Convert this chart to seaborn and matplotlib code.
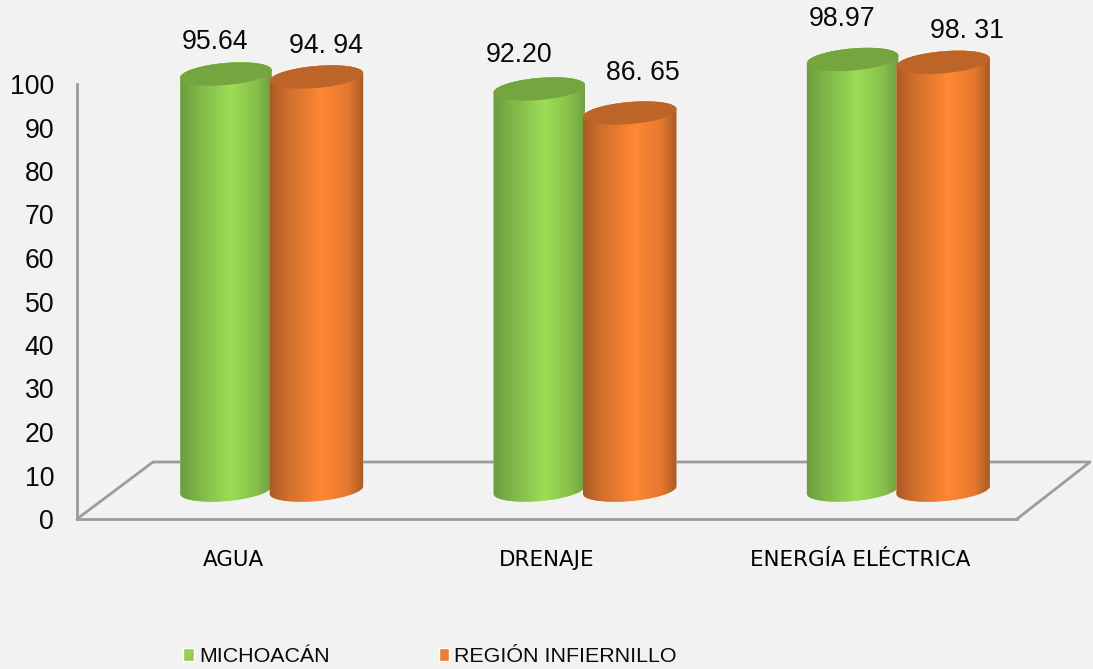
import numpy as np
import pandas as pd
import matplotlib
matplotlib.use('Agg')
import matplotlib.pyplot as plt
import seaborn as sns
from matplotlib.colors import LinearSegmentedColormap
from matplotlib.lines import Line2D
from matplotlib.patches import Ellipse
from matplotlib.path import Path
from matplotlib.transforms import Affine2D, IdentityTransform

categories = ['AGUA', 'DRENAJE', 'ENERGÍA ELÉCTRICA']
series_names = ['MICHOACÁN', 'REGIÓN INFIERNILLO']
michoacan = [95.64, 92.20, 98.97]
infiernillo = [94.94, 86.65, 98.31]
value_labels = [['95.64', '92.20', '98.97'], ['94. 94', '86. 65', '98. 31']]
y_ticks = [0, 10, 20, 30, 40, 50, 60, 70, 80, 90, 100]

# label offsets from the top of each cylinder, in pixels
label_dx = [[-11, -20, -11], [10, 13, 24]]
label_dy = [[32, 34, 40], [31, 40, 31]]

W, H = 1093, 669
BG = '#f2f2f2'
GREY = '#9c9c9c'
colors = ['#92D050', '#ED7D31']
top_colors = ['#74a53e', '#bd6529']
body_cmaps = [
    LinearSegmentedColormap.from_list('g', [(0, '#6b9b3e'), (.22, '#80b748'), (.55, '#9cdd55'), (.82, '#86bf4b'), (1, '#6c9a3f')]),
    LinearSegmentedColormap.from_list('o', [(0, '#a55822'), (.2, '#cf6f2c'), (.55, '#ff8833'), (.82, '#e5782f'), (1, '#a25722')]),
]

data = pd.DataFrame({
    'categoria': categories * 2,
    'serie': [series_names[0]] * 3 + [series_names[1]] * 3,
    'valor': michoacan + infiernillo,
})

sns.set_style('white')
plt.rcParams['font.family'] = ['Liberation Sans', 'DejaVu Sans']

fig = plt.figure(figsize=(W / 100, H / 100), dpi=100, facecolor=BG)
# front plane of the 3D box: x 77..1017, y 84..519 (pixels from top)
ax = fig.add_axes([77 / W, 1 - 519 / H, 940 / W, 435 / H])
ax.set_facecolor('none')

sns.barplot(data=data, x='categoria', y='valor', hue='serie', palette=colors,
            width=0.584, saturation=1, ax=ax)
ax.set_xlim(-0.5, 2.5)
ax.set_ylim(0, 100)
ax.set_xlabel('')
ax.set_ylabel('')
ax.set_yticks(y_ticks)
ax.tick_params(axis='y', labelsize=19.2, length=0, pad=16.5, labelcolor='#0a0a0a')
ax.tick_params(axis='x', length=0, pad=22.5)
for lab in ax.get_xticklabels():
    lab.set_fontfamily('DejaVu Sans')
    lab.set_fontsize(15.4)
    lab.set_color('#000000')

sns.despine(ax=ax, top=True, right=True)
for s in ['left', 'bottom']:
    ax.spines[s].set_color(GREY)
    ax.spines[s].set_linewidth(2)

sns.move_legend(ax, 'lower left', bbox_to_anchor=(183 / W, 1 - 666 / H),
                bbox_transform=fig.transFigure, ncols=2, frameon=False, title=None,
                fontsize=15.4, handlelength=0.51, handleheight=0.51,
                handletextpad=0.23, columnspacing=5.1, borderpad=0, borderaxespad=0)
for t in ax.get_legend().get_texts():
    t.set_color('#0a0a0a')

# floor of the box, depth goes 76px right and 57px up
fig.canvas.draw()
to_px = ax.transData
left_px = to_px.transform((-0.5, 0))
right_px = to_px.transform((2.5, 0))
depth = np.array([76, 57])
floor = np.array([left_px, left_px + depth, [1090, left_px[1] + depth[1]], right_px])
ax.add_line(Line2D(floor[:, 0], floor[:, 1], color=GREY, lw=2, clip_on=False,
                   transform=IdentityTransform(), zorder=1))

# cylinders sit half way into the box
shift = Affine2D().translate(38, 29)
TILT = np.deg2rad(5)
ELL_H = 11.0


def ellipse_points(cx, cy, a, t):
    x = a * np.cos(t)
    y = ELL_H * np.sin(t)
    return np.column_stack([cx + x * np.cos(TILT) - y * np.sin(TILT),
                            cy + x * np.sin(TILT) + y * np.cos(TILT)])


for i, container in enumerate(ax.containers):
    for j, bar in enumerate(container):
        z = 3 + i * 2 + j * 0.1
        x0, y0 = (to_px + shift).transform((bar.get_x(), 0))
        x1, y1 = (to_px + shift).transform((bar.get_x() + bar.get_width(), bar.get_height()))
        if i == 1:
            # orange cylinders overlap the green ones a little
            x0 -= 2
        cx = (x0 + x1) / 2
        a = (x1 - x0) / 2 / np.cos(TILT)
        low = ellipse_points(cx, y0, a, np.linspace(np.pi, 2 * np.pi, 60))
        up = ellipse_points(cx, y1, a, np.linspace(0, np.pi, 60))
        outline = Path(np.vstack([low, up, low[:1]]), closed=True)

        bar.set_transform(IdentityTransform())
        bar.set_xy((x0, y0 - 20))
        bar.set_width(x1 - x0)
        bar.set_height(y1 - y0 + 40)
        bar.set_clip_box(fig.bbox)
        bar.set_clip_path(outline, IdentityTransform())
        bar.set_zorder(z)

        im = ax.imshow(np.linspace(0, 1, 256).reshape(1, -1), cmap=body_cmaps[i], aspect='auto',
                       extent=(x0 - 2, x1 + 2, y0 - 20, y1 + 20), transform=IdentityTransform(), zorder=z + 0.1)
        im.set_clip_box(fig.bbox)
        im.set_clip_path(outline, IdentityTransform())

        ax.add_patch(Ellipse((cx, y1), 2 * a, 2 * ELL_H, angle=np.rad2deg(TILT), facecolor=top_colors[i],
                             edgecolor='none', transform=IdentityTransform(), zorder=z + 0.2, clip_on=False))

        ax.annotate(value_labels[i][j], xy=(cx, y1),
                    xytext=(label_dx[i][j] * 0.72, label_dy[i][j] * 0.72), xycoords=IdentityTransform(),
                    textcoords='offset points', ha='center', va='center', fontsize=19.2, color='#0a0a0a')

ax.set_xlim(-0.5, 2.5)
ax.set_ylim(0, 100)
fig.savefig('out.png', dpi=100, facecolor=BG)
